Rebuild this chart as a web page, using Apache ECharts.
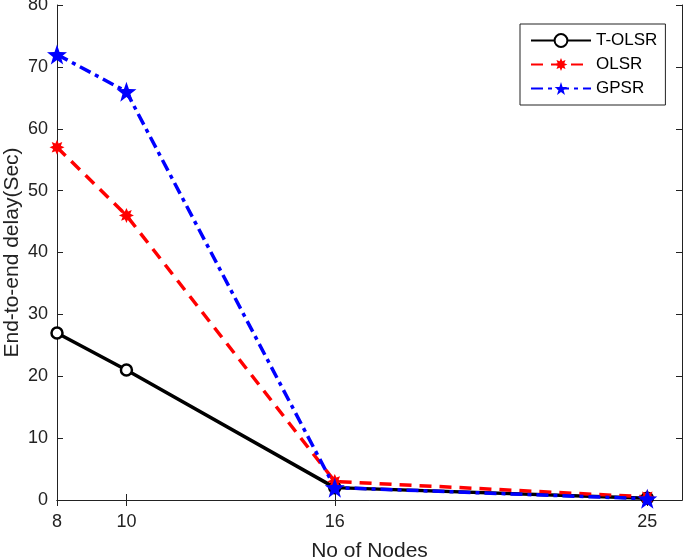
<!DOCTYPE html>
<html><head><meta charset="utf-8">
<script src="https://cdn.jsdelivr.net/npm/echarts@6/dist/echarts.min.js"></script>
<style>html,body{margin:0;padding:0;background:#fff}#c{width:685px;height:557px}</style>
</head><body><div id="c"></div>
<script>
var nodes = [8, 10, 16, 25];
var xTicks = [8, 10, 16, 25];
var tolsr = [27, 21, 2, 0.3];
var olsr = [57, 46, 3, 0.5];
var gpsr = [72, 66, 2, 0.2];
var seriesNames = ['T-OLSR', 'OLSR', 'GPSR'];

function starPath(n, ro, ri) {
  var s = 'path://';
  for (var i = 0; i < 2 * n; i++) {
    var r = i % 2 === 0 ? ro : ri;
    var a = -Math.PI / 2 + i * Math.PI / n;
    s += (i === 0 ? 'M' : 'L') + (50 + r * Math.cos(a)).toFixed(2) + ',' + (50 + r * Math.sin(a)).toFixed(2) + ' ';
  }
  return s + 'Z';
}
var pentagram = starPath(5, 50, 20);
var asterisk = starPath(8, 50, 28);

function pairs(v) { return nodes.map(function (x, i) { return [x, v[i]]; }); }

var font = 'Liberation Sans, Arial, sans-serif';
var chart = echarts.init(document.getElementById('c'));
chart.setOption({
  animation: false,
  backgroundColor: '#fff',
  grid: { left: 57, right: 3, top: 5, bottom: 57, outerBoundsMode: 'none', containLabel: false },
  legend: {
    orient: 'vertical', left: 520, top: 24,
    borderColor: '#222', borderWidth: 1, padding: [8, 8, 8, 10], itemGap: 7,
    itemWidth: 60, itemHeight: 16,
    textStyle: { fontFamily: font, fontSize: 17, color: '#000' },
    data: seriesNames
  },
  xAxis: [{
    type: 'value', min: 8, max: 26,
    name: 'No of Nodes', nameLocation: 'middle', nameGap: 41, nameMoveOverlap: false,
    nameTextStyle: { fontFamily: font, fontSize: 21, color: '#222' },
    splitLine: { show: false },
    axisLine: { lineStyle: { color: '#222', width: 1 } },
    axisTick: { inside: true, length: 6, lineStyle: { color: '#222' }, customValues: xTicks },
    axisLabel: { fontFamily: font, fontSize: 18, color: '#222', margin: 13, customValues: xTicks,
      formatter: function (v) { return xTicks.indexOf(v) >= 0 ? String(v) : ''; } }
  }, {
    type: 'value', min: 8, max: 26, position: 'top',
    splitLine: { show: false },
    axisLine: { show: true, lineStyle: { color: '#222', width: 1 } },
    axisTick: { inside: true, length: 6, lineStyle: { color: '#222' }, customValues: xTicks },
    axisLabel: { show: false }
  }],
  yAxis: [{
    type: 'value', min: 0, max: 80, interval: 10,
    name: 'End-to-end delay(Sec)', nameLocation: 'middle', nameGap: 34, nameMoveOverlap: false,
    nameTextStyle: { fontFamily: font, fontSize: 21, color: '#222' },
    splitLine: { show: false },
    axisLine: { show: true, lineStyle: { color: '#222', width: 1 } },
    axisTick: { inside: true, length: 6, lineStyle: { color: '#222' } },
    axisLabel: { fontFamily: font, fontSize: 18, color: '#222', margin: 9 }
  }, {
    type: 'value', min: 0, max: 80, interval: 10, position: 'right',
    splitLine: { show: false },
    axisLine: { show: true, lineStyle: { color: '#222', width: 1 } },
    axisTick: { inside: true, length: 6, lineStyle: { color: '#222' } },
    axisLabel: { show: false }
  }],
  series: [{
    name: 'T-OLSR', type: 'line', data: pairs(tolsr),
    symbol: 'circle', symbolSize: 11, showAllSymbol: true,
    lineStyle: { color: '#000', width: 3.5 },
    itemStyle: { color: '#fff', borderColor: '#000', borderWidth: 2.5 }
  }, {
    name: 'OLSR', type: 'line', data: pairs(olsr),
    symbol: asterisk, symbolSize: 15,
    lineStyle: { color: '#ff0000', width: 3.5, type: [12, 8] },
    itemStyle: { color: '#ff0000', borderColor: '#ff0000', borderWidth: 0 }
  }, {
    name: 'GPSR', type: 'line', data: pairs(gpsr),
    symbol: pentagram, symbolSize: 20,
    lineStyle: { color: '#0000ff', width: 3.5, type: [12, 5, 4, 5] },
    itemStyle: { color: '#0000ff', borderColor: '#0000ff', borderWidth: 0 }
  }]
});
</script></body></html>
